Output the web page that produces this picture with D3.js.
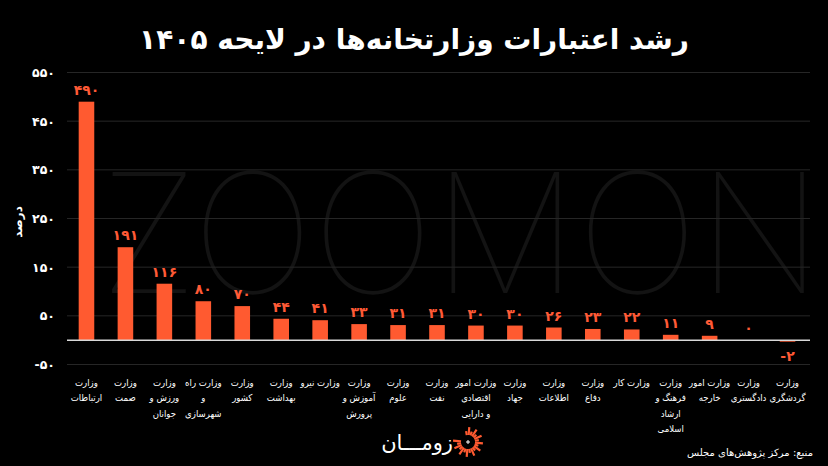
<!DOCTYPE html>
<html><head><meta charset="utf-8">
<script src="https://cdn.jsdelivr.net/npm/d3@7"></script>
<style>
html,body{margin:0;padding:0;background:#000;}
svg{display:block;}
text{font-family:"DejaVu Sans","Noto Sans",sans-serif;}
.cond{font-family:"DejaVu Sans Condensed","DejaVu Sans",sans-serif;font-stretch:condensed;}
</style></head>
<body>
<svg id="c" width="828" height="466"></svg>
<script>
const categories = [
  ["وزارت","ارتباطات"],
  ["وزارت","صمت"],
  ["وزارت","ورزش و","جوانان"],
  ["وزارت راه","و","شهرسازی"],
  ["وزارت","کشور"],
  ["وزارت","بهداشت"],
  ["وزارت نیرو"],
  ["وزارت","آموزش و","پرورش"],
  ["وزارت","علوم"],
  ["وزارت","نفت"],
  ["وزارت امور","اقتصادی","و دارایی"],
  ["وزارت","جهاد"],
  ["وزارت","اطلاعات"],
  ["وزارت","دفاع"],
  ["وزارت کار"],
  ["وزارت","فرهنگ و","ارشاد","اسلامی"],
  ["وزارت امور","خارجه"],
  ["وزارت","دادگستری"],
  ["وزارت","گردشگری"]
];
const values = [490,191,116,80,70,44,41,33,31,31,30,30,26,23,22,11,9,0,-2];
const yTicks = [-50,50,150,250,350,450,550];
const title = "رشد اعتبارات وزارتخانه‌ها در لایحه ۱۴۰۵";
const yLabel = "درصد";
const source = "منبع: مرکز پژوهش‌های مجلس";
const brand = "زومـــان";
const watermark = "ZOOMON";

const fa = n => { const s = String(Math.abs(n)).replace(/\d/g, d => "۰۱۲۳۴۵۶۷۸۹"[d]); return (n<0?"-":"") + s; };

const svg = d3.select("#c");
const W = 828, H = 466;
svg.append("rect").attr("width",W).attr("height",H).attr("fill","#000");

const x = d3.scaleBand().domain(d3.range(values.length)).range([67,807]).paddingInner(0.6).paddingOuter(0.3);
const y = d3.scaleLinear().domain([-50,550]).range([364.5,72.5]);

// watermark
svg.append("text").attr("x",100).attr("y",293).attr("textLength",722).attr("lengthAdjust","spacingAndGlyphs")
  .style("font-family","Inter, Lato, sans-serif").style("font-weight",100).style("font-size","166px")
  .attr("fill","#131313").text(watermark);

// grid
svg.append("g").selectAll("line").data(yTicks).join("line")
  .attr("x1",67).attr("x2",810).attr("y1",d=>y(d)).attr("y2",d=>y(d))
  .attr("stroke","#262626").attr("stroke-width",1);

// y axis labels
const yAxis = d3.axisLeft(y).tickValues(yTicks).tickSize(0).tickPadding(0).tickFormat(fa);
const ya = svg.append("g").attr("transform","translate(55,0)").call(yAxis);
ya.select(".domain").remove();
ya.selectAll("text").attr("fill","#fff").style("font-size","12.5px").style("font-weight","bold")
  .style("font-family","DejaVu Sans, sans-serif");

// bars
svg.selectAll("rect.bar").data(values).join("rect").attr("class","bar")
  .attr("x",(d,i)=>x(i)).attr("width",x.bandwidth())
  .attr("y",d=>Math.min(y(d),y(0))).attr("height",d=>Math.max(Math.abs(y(d)-y(0)), d===0?0:1.5))
  .attr("fill","#ff5a30");

// zero line
svg.append("line").attr("x1",67).attr("x2",810).attr("y1",y(0)).attr("y2",y(0))
  .attr("stroke","#d8d8d8").attr("stroke-width",1.5);

// value labels
svg.selectAll("text.val").data(values).join("text").attr("class","val")
  .attr("x",(d,i)=>x(i)+x.bandwidth()/2)
  .attr("y",d=> d<0 ? y(d)+20 : y(d)-7)
  .attr("text-anchor","middle").attr("fill","#ff5a36")
  .style("font-size","14px").style("font-weight","bold")
  .text(d=>fa(d));

// x labels
const xl = svg.selectAll("g.xl").data(categories).join("g").attr("class","xl")
  .attr("transform",(d,i)=>`translate(${x(i)+x.bandwidth()/2},386)`);
xl.selectAll("text").data(d=>d).join("text").attr("class","cond")
  .attr("y",(d,i)=>i*15.3).attr("text-anchor","middle").attr("direction","rtl")
  .attr("fill","#fff").style("font-size","9.5px").text(d=>d);

// y label
svg.append("text").attr("transform","translate(22,222) rotate(-90)").attr("text-anchor","middle")
  .attr("fill","#fff").style("font-size","12px").style("font-weight","bold").text(yLabel);

// title
svg.append("text").attr("x",414).attr("y",49).attr("text-anchor","middle").attr("direction","rtl")
  .attr("fill","#fff").style("font-size","28px").style("font-weight","bold").text(title);

// source
svg.append("text").attr("x",813).attr("y",456).attr("text-anchor","start").attr("direction","rtl")
  .attr("fill","#fff").style("font-size","10px").text(source);

// brand
svg.append("text").attr("x",453).attr("y",450).attr("text-anchor","start").attr("direction","rtl")
  .attr("fill","#fff").style("font-size","21px").text(brand);
const ic = svg.append("g").attr("transform","translate(468,442)");
const angs = d3.range(-100, 200, 15);
ic.selectAll("line").data(angs).join("line")
  .attr("x1",a=>7*Math.cos(a*Math.PI/180)).attr("y1",a=>7*Math.sin(a*Math.PI/180))
  .attr("x2",(a,i)=>(11+ (i%2)*4)*Math.cos(a*Math.PI/180)).attr("y2",(a,i)=>(11+(i%2)*4)*Math.sin(a*Math.PI/180))
  .attr("stroke","#ff5a30").attr("stroke-width",2.2);
ic.append("path").attr("d","M-2,0H2M0,-2V2").attr("stroke","#fff").attr("stroke-width",1);
</script>
</body></html>
